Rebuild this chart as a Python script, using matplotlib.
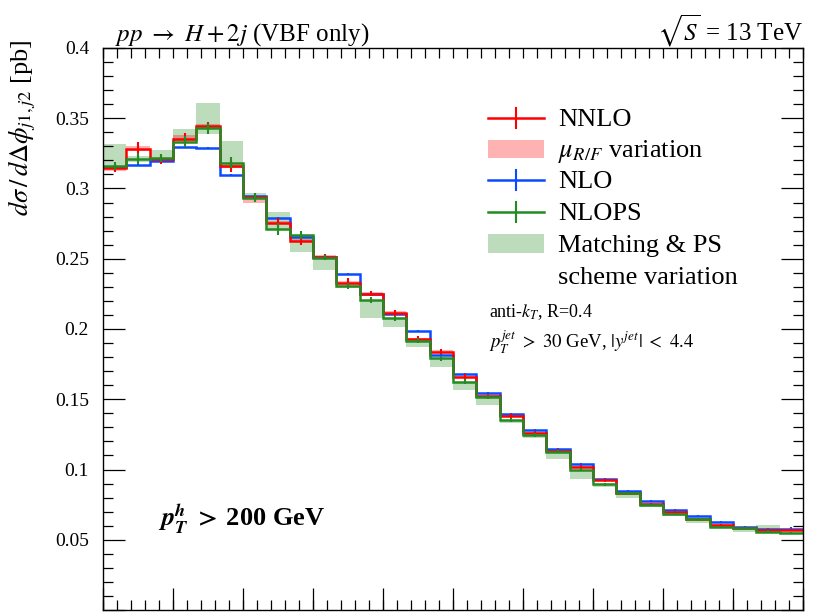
import numpy as np
import matplotlib
matplotlib.use('Agg')
import matplotlib.pyplot as plt
from matplotlib.ticker import MultipleLocator, FuncFormatter

plt.rcParams['font.family'] = ['Liberation Serif', 'DejaVu Serif']
plt.rcParams['mathtext.fontset'] = 'stix'

# 30 bins in delta-phi (units of pi)
edges = np.linspace(0.0, 1.0, 31)

nnlo = [0.3145, 0.3283, 0.3207, 0.3355, 0.3445, 0.3160, 0.2937, 0.2757, 0.2629, 0.2512,
        0.2330, 0.2252, 0.2116, 0.1927, 0.1839, 0.1660, 0.1522, 0.1383, 0.1258, 0.1134,
        0.1020, 0.0922, 0.0830, 0.0754, 0.0695, 0.0647, 0.0607, 0.0586, 0.0566, 0.0567]
nnlo_err = [0.003, 0.005, 0.003, 0.004, 0.003, 0.004, 0.003, 0.003, 0.003, 0.002,
            0.003, 0.002, 0.002, 0.002, 0.002, 0.002, 0.0015, 0.0015, 0.0015, 0.0012,
            0.0012, 0.001, 0.001, 0.001, 0.0008, 0.0008, 0.0008, 0.0008, 0.0008, 0.0008]
nnlo_lo = [0.3125, 0.3265, 0.3195, 0.3340, 0.3430, 0.3145, 0.2900, 0.2745, 0.2620, 0.2495,
           0.2320, 0.2240, 0.2105, 0.1915, 0.1830, 0.1650, 0.1510, 0.1375, 0.1250, 0.1125,
           0.1012, 0.0915, 0.0822, 0.0748, 0.0688, 0.0640, 0.0600, 0.0580, 0.0560, 0.0560]
nnlo_hi = [0.3155, 0.3300, 0.3220, 0.3380, 0.3460, 0.3170, 0.2945, 0.2770, 0.2640, 0.2525,
           0.2340, 0.2260, 0.2125, 0.1935, 0.1848, 0.1668, 0.1530, 0.1390, 0.1265, 0.1140,
           0.1027, 0.0928, 0.0836, 0.0760, 0.0700, 0.0652, 0.0612, 0.0591, 0.0571, 0.0572]

nlo = [0.3155, 0.3167, 0.3196, 0.3298, 0.3288, 0.3096, 0.2945, 0.2788, 0.2657, 0.2515,
       0.2391, 0.2248, 0.2104, 0.1986, 0.1815, 0.1680, 0.1545, 0.1395, 0.1281, 0.1145,
       0.1039, 0.0935, 0.0849, 0.0776, 0.0710, 0.0667, 0.0626, 0.0593, 0.0577, 0.0580]
nlo_err = [0.001] * 12 + [0.0008] * 18

nlops = [0.3160, 0.3212, 0.3217, 0.3334, 0.3428, 0.3184, 0.2935, 0.2712, 0.2669, 0.2508,
         0.2308, 0.2206, 0.2076, 0.1917, 0.1791, 0.1625, 0.1515, 0.1350, 0.1244, 0.1128,
         0.0998, 0.0896, 0.0830, 0.0747, 0.0682, 0.0645, 0.0591, 0.0581, 0.0558, 0.0548]
nlops_err = [0.003, 0.004, 0.003, 0.004, 0.004, 0.004, 0.003, 0.004, 0.003, 0.002,
             0.002, 0.002, 0.002, 0.002, 0.002, 0.002, 0.0015, 0.0015, 0.0015, 0.0012,
             0.0012, 0.001, 0.001, 0.001, 0.0008, 0.0008, 0.0008, 0.0008, 0.0008, 0.0008]
nlops_lo = [0.3146, 0.3190, 0.3198, 0.3330, 0.3390, 0.3146, 0.2930, 0.2710, 0.2550, 0.2420,
            0.2290, 0.2076, 0.2017, 0.1869, 0.1732, 0.1566, 0.1459, 0.1331, 0.1222, 0.1078,
            0.0930, 0.0878, 0.0795, 0.0735, 0.0670, 0.0617, 0.0585, 0.0553, 0.0558, 0.0540]
nlops_hi = [0.3320, 0.3230, 0.3274, 0.3421, 0.3610, 0.3338, 0.2968, 0.2836, 0.2669, 0.2515,
            0.2320, 0.2206, 0.2076, 0.1917, 0.1791, 0.1625, 0.1519, 0.1350, 0.1246, 0.1128,
            0.0998, 0.0896, 0.0830, 0.0750, 0.0685, 0.0645, 0.0595, 0.0593, 0.0605, 0.0555]

RED = '#ff0000'
BLUE = '#0a4bff'
GREEN = '#228b22'

fig = plt.figure(figsize=(8.3, 6.13), dpi=100)
ax = fig.add_axes([103 / 830, 1 - 610 / 613, 700 / 830, 562 / 613])

centers = 0.5 * (edges[:-1] + edges[1:])

# uncertainty bands
ax.stairs(nlops_hi, edges, baseline=nlops_lo, fill=True, color=GREEN, alpha=0.3, lw=0)
ax.stairs(nnlo_hi, edges, baseline=nnlo_lo, fill=True, color=RED, alpha=0.3, lw=0)

# central values
for vals, errs, col in [(nlo, nlo_err, BLUE), (nnlo, nnlo_err, RED), (nlops, nlops_err, GREEN)]:
    ax.stairs(vals, edges, color=col, lw=1.8, baseline=None)
    ax.errorbar(centers, vals, yerr=errs, fmt='none', ecolor=col, elinewidth=1.5)

ax.set_xlim(0, 1)
ax.set_ylim(0, 0.4)

ax.xaxis.set_major_locator(MultipleLocator(0.1))
ax.xaxis.set_minor_locator(MultipleLocator(0.02))
ax.xaxis.remove_overlapping_locs = False
ax.yaxis.set_major_locator(MultipleLocator(0.05))
ax.yaxis.set_minor_locator(MultipleLocator(0.01))
ax.yaxis.set_major_formatter(FuncFormatter(lambda v, p: '' if v < 0.01 else '%g' % v))
ax.set_xticklabels([])

ax.tick_params(which='both', direction='in', color='black', width=0.9)
ax.tick_params(axis='x', which='major', bottom=True, top=False, length=16)
ax.tick_params(axis='x', which='minor', bottom=True, top=True, length=7)
ax.tick_params(axis='y', which='major', left=True, right=True, length=16, labelsize=14, pad=10)
ax.tick_params(axis='y', which='minor', left=True, right=True, length=7)
for s in ax.spines.values():
    s.set_linewidth(1.0)

fig.text(22 / 830, 1 - 40 / 613, r'$d\sigma\,/\,d\Delta\phi_{j1,j2}$ [pb]', rotation=90,
         ha='center', va='top', fontsize=19)

ax.text(12 / 700, 1 + 7 / 562, r'$pp\ \rightarrow\ H + 2j$ (VBF only)', transform=ax.transAxes,
        ha='left', va='baseline', fontsize=18)
ax.text(1.0, 1 + 7 / 562, r'$\sqrt{S}$ = 13 TeV', transform=ax.transAxes,
        ha='right', va='baseline', fontsize=18)


def fx(px):
    return (px - 103) / 700


def fy(py):
    return (610 - py) / 562


# legend drawn by hand
for col, py in [(RED, 118), (BLUE, 180), (GREEN, 212)]:
    ax.plot([fx(488), fx(544)], [fy(py), fy(py)], color=col, lw=1.8, transform=ax.transAxes)
    ax.plot([fx(516), fx(516)], [fy(py - 10), fy(py + 10)], color=col, lw=1.5, transform=ax.transAxes)
for col, y0, y1 in [(RED, 140, 158), (GREEN, 234, 253)]:
    ax.add_patch(plt.Rectangle((fx(488), fy(y1)), fx(544) - fx(488), fy(y0) - fy(y1),
                               color=col, alpha=0.3, lw=0, transform=ax.transAxes))

leg = [('NNLO', 126), (r'$\mu_{R/F}$ variation', 157), ('NLO', 188), ('NLOPS', 220),
       ('Matching & PS', 252), ('scheme variation', 284)]
for txt, py in leg:
    ax.text(fx(558), fy(py), txt, transform=ax.transAxes, ha='left', va='baseline', fontsize=19)

ax.text(fx(489), fy(317), r'anti-$k_T$, R=0.4', transform=ax.transAxes,
        ha='left', va='baseline', fontsize=13)
ax.text(fx(489), fy(349), r'$p_T^{jet}\ >\ 30$ GeV, $|y^{jet}|\ <\ 4.4$', transform=ax.transAxes,
        ha='left', va='baseline', fontsize=13.5)

ax.text(fx(158), fy(527), r'$\boldsymbol{p}_{\boldsymbol{T}}^{\boldsymbol{h}}\ \boldsymbol{>}$ 200 GeV',
        transform=ax.transAxes, ha='left', va='baseline', fontsize=19, fontweight='bold')

fig.savefig('out.png', dpi=100)
